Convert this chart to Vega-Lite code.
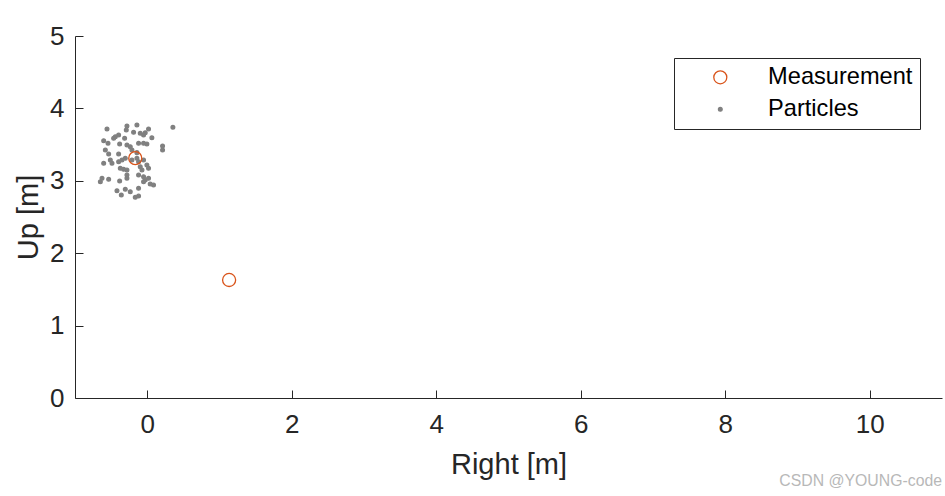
{
  "$schema": "https://vega.github.io/schema/vega-lite/v6.json",
  "width": 867,
  "height": 362,
  "autosize": "none",
  "padding": {"left": 75, "top": 36, "right": 3, "bottom": 98},
  "background": "white",
  "title": {"text": "CSDN @YOUNG-code", "orient": "bottom", "anchor": "end", "fontSize": 15.8, "fontWeight": "normal", "font": "Liberation Sans", "color": "#b8b8b8", "offset": -5},
  "config": {
    "view": {"stroke": null},
    "font": "Liberation Sans",
    "axis": {
      "grid": false,
      "domainColor": "#262626",
      "tickColor": "#262626",
      "labelColor": "#262626",
      "titleColor": "#262626",
      "labelFont": "Liberation Sans",
      "titleFont": "Liberation Sans",
      "labelFontSize": 26,
      "titleFontSize": 29,
      "titleFontWeight": "normal",
      "tickSize": -8,
      "domainWidth": 1,
      "tickWidth": 1
    },
    "legend": {
      "orient": "top-right",
      "offset": 22,
      "strokeColor": "#262626",
      "fillColor": "white",
      "padding": 7.5,
      "labelFont": "Liberation Sans",
      "labelFontSize": 23.6,
      "labelColor": "#000000",
      "symbolOffset": 27,
      "labelOffset": 36,
      "rowPadding": 7,
      "symbolStrokeWidth": 1.3
    }
  },
  "data": {
    "values": [
      {"x": -0.557, "y": 3.716, "series": "Particles"},
      {"x": -0.281, "y": 3.757, "series": "Particles"},
      {"x": -0.290, "y": 3.702, "series": "Particles"},
      {"x": -0.143, "y": 3.771, "series": "Particles"},
      {"x": 0.018, "y": 3.716, "series": "Particles"},
      {"x": 0.355, "y": 3.739, "series": "Particles"},
      {"x": -0.189, "y": 3.670, "series": "Particles"},
      {"x": -0.097, "y": 3.656, "series": "Particles"},
      {"x": -0.051, "y": 3.633, "series": "Particles"},
      {"x": -0.028, "y": 3.665, "series": "Particles"},
      {"x": -0.396, "y": 3.633, "series": "Particles"},
      {"x": -0.442, "y": 3.609, "series": "Particles"},
      {"x": -0.465, "y": 3.587, "series": "Particles"},
      {"x": -0.603, "y": 3.554, "series": "Particles"},
      {"x": -0.543, "y": 3.518, "series": "Particles"},
      {"x": -0.313, "y": 3.587, "series": "Particles"},
      {"x": 0.064, "y": 3.596, "series": "Particles"},
      {"x": -0.382, "y": 3.508, "series": "Particles"},
      {"x": -0.281, "y": 3.494, "series": "Particles"},
      {"x": -0.235, "y": 3.471, "series": "Particles"},
      {"x": -0.120, "y": 3.518, "series": "Particles"},
      {"x": -0.051, "y": 3.518, "series": "Particles"},
      {"x": -0.005, "y": 3.508, "series": "Particles"},
      {"x": 0.212, "y": 3.481, "series": "Particles"},
      {"x": 0.212, "y": 3.425, "series": "Particles"},
      {"x": -0.580, "y": 3.425, "series": "Particles"},
      {"x": -0.534, "y": 3.370, "series": "Particles"},
      {"x": -0.396, "y": 3.370, "series": "Particles"},
      {"x": -0.212, "y": 3.425, "series": "Particles"},
      {"x": -0.143, "y": 3.389, "series": "Particles"},
      {"x": -0.511, "y": 3.287, "series": "Particles"},
      {"x": -0.488, "y": 3.242, "series": "Particles"},
      {"x": -0.603, "y": 3.242, "series": "Particles"},
      {"x": -0.396, "y": 3.264, "series": "Particles"},
      {"x": -0.350, "y": 3.287, "series": "Particles"},
      {"x": -0.304, "y": 3.311, "series": "Particles"},
      {"x": -0.212, "y": 3.287, "series": "Particles"},
      {"x": -0.143, "y": 3.311, "series": "Particles"},
      {"x": -0.120, "y": 3.264, "series": "Particles"},
      {"x": -0.051, "y": 3.287, "series": "Particles"},
      {"x": -0.005, "y": 3.218, "series": "Particles"},
      {"x": 0.018, "y": 3.173, "series": "Particles"},
      {"x": -0.373, "y": 3.173, "series": "Particles"},
      {"x": -0.327, "y": 3.159, "series": "Particles"},
      {"x": -0.281, "y": 3.149, "series": "Particles"},
      {"x": -0.097, "y": 3.195, "series": "Particles"},
      {"x": -0.073, "y": 3.149, "series": "Particles"},
      {"x": -0.626, "y": 3.034, "series": "Particles"},
      {"x": -0.649, "y": 2.988, "series": "Particles"},
      {"x": -0.534, "y": 3.020, "series": "Particles"},
      {"x": -0.382, "y": 2.997, "series": "Particles"},
      {"x": -0.281, "y": 3.080, "series": "Particles"},
      {"x": -0.281, "y": 3.034, "series": "Particles"},
      {"x": -0.120, "y": 3.080, "series": "Particles"},
      {"x": -0.051, "y": 3.057, "series": "Particles"},
      {"x": -0.028, "y": 3.011, "series": "Particles"},
      {"x": 0.018, "y": 3.034, "series": "Particles"},
      {"x": 0.041, "y": 2.956, "series": "Particles"},
      {"x": 0.087, "y": 2.942, "series": "Particles"},
      {"x": -0.419, "y": 2.863, "series": "Particles"},
      {"x": -0.359, "y": 2.804, "series": "Particles"},
      {"x": -0.304, "y": 2.882, "series": "Particles"},
      {"x": -0.235, "y": 2.850, "series": "Particles"},
      {"x": -0.120, "y": 2.896, "series": "Particles"},
      {"x": -0.166, "y": 2.772, "series": "Particles"},
      {"x": -0.120, "y": 2.790, "series": "Particles"},
      {"x": -0.051, "y": 2.988, "series": "Particles"},
      {"x": -0.166, "y": 3.313, "series": "Measurement"},
      {"x": 1.133, "y": 1.630, "series": "Measurement"}
    ]
  },
  "mark": {"type": "point", "strokeWidth": 1.3, "opacity": 1},
  "encoding": {
    "x": {"field": "x", "type": "quantitative", "scale": {"domain": [-1, 11], "nice": false, "zero": false}, "axis": {"values": [0, 2, 4, 6, 8, 10], "title": "Right [m]", "labelPadding": 21, "titlePadding": 13}},
    "y": {"field": "y", "type": "quantitative", "scale": {"domain": [0, 5], "nice": false}, "axis": {"values": [0, 1, 2, 3, 4, 5], "title": "Up [m]", "labelPadding": 19, "titlePadding": 6}},
    "stroke": {"field": "series", "type": "nominal", "scale": {"domain": ["Measurement", "Particles"], "range": ["#D95319", "#808080"]}, "legend": {"title": null}},
    "fill": {"field": "series", "type": "nominal", "scale": {"domain": ["Measurement", "Particles"], "range": ["transparent", "#808080"]}, "legend": {"title": null}},
    "size": {"field": "series", "type": "nominal", "scale": {"domain": ["Measurement", "Particles"], "range": [170, 14]}, "legend": {"title": null}},
    "order": {"field": "series", "type": "nominal", "sort": "descending"}
  }
}
